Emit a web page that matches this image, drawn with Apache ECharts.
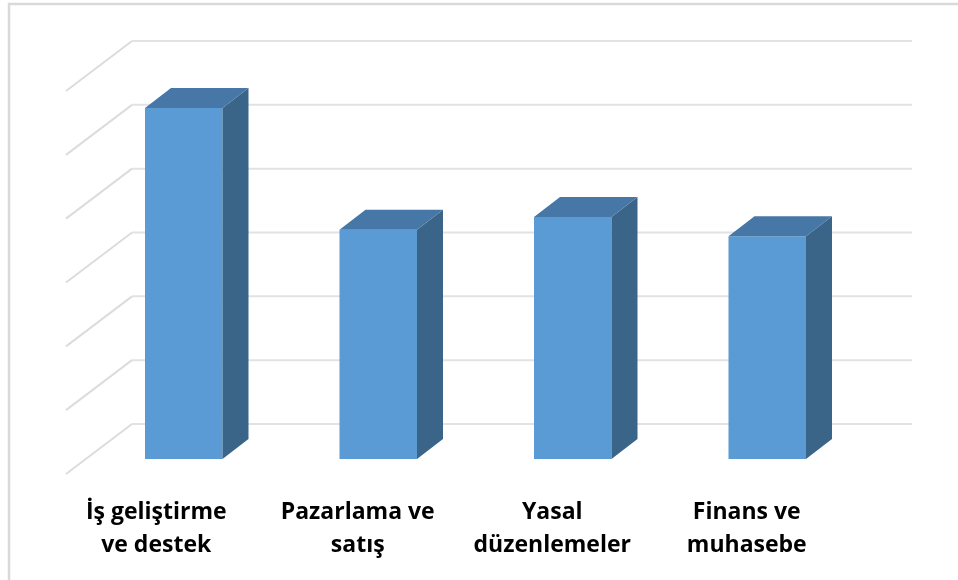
<!DOCTYPE html>
<html lang="tr">
<head>
  <meta charset="UTF-8">
  <title>Bar chart</title>
  <script src="https://cdn.jsdelivr.net/npm/echarts@6/dist/echarts.min.js"></script>
</head>
<body style="margin: 0; background: #fff">
<div id="container" style="width: 958px; height: 580px"></div>
<script type="text/javascript">
  var categories = ['İş geliştirme\nve destek', 'Pazarlama ve\nsatış', 'Yasal\ndüzenlemeler', 'Finans ve\nmuhasebe'];
  var barValues = [5.5, 3.59, 3.79, 3.49];
  var gridValues = [0, 1, 2, 3, 4, 5, 6];

  var myChart = echarts.init(document.getElementById('container'), null, { renderer: 'canvas' });

  // wall depth and bar placement inside the fake 3d box
  var wallDx = 66, wallDy = -50, wallExtra = 2;
  var barDx = 20.5, barDy = -15, barW = 77.5, sideDx = 26, sideDy = -20;

  function renderWall(params, api) {
    var sys = params.coordSys;
    var y = api.coord([0, api.value(0)])[1];
    return {
      type: 'group',
      children: [
        {
          type: 'line',
          shape: { x1: sys.x, y1: y, x2: sys.x + wallDx, y2: y + wallDy },
          style: { stroke: '#dcdcdc', lineWidth: 2 }
        },
        {
          type: 'line',
          shape: { x1: sys.x + wallDx, y1: y + wallDy, x2: sys.x + sys.width + wallDx + wallExtra, y2: y + wallDy },
          style: { stroke: '#e2e2e2', lineWidth: 2 }
        }
      ]
    };
  }

  function renderBar(params, api) {
    var center = api.coord([api.value(0), 0]);
    var top = api.coord([api.value(0), api.value(1)]);
    var x0 = center[0] + barDx - barW / 2;
    var x1 = x0 + barW;
    var y0 = center[1] + barDy;
    var y1 = top[1] + barDy;
    return {
      type: 'group',
      children: [
        { type: 'rect', shape: { x: x0, y: y1, width: barW, height: y0 - y1 }, style: { fill: '#5b9bd5' } },
        { type: 'polygon', shape: { points: [[x1, y1], [x1 + sideDx, y1 + sideDy], [x1 + sideDx, y0 + sideDy], [x1, y0]] }, style: { fill: '#3a6589' } },
        { type: 'polygon', shape: { points: [[x0, y1], [x0 + sideDx, y1 + sideDy], [x1 + sideDx, y1 + sideDy], [x1, y1]] }, style: { fill: '#4677a6' } }
      ]
    };
  }

  var option = {
    animation: false,
    grid: { left: 66, top: 91, width: 778, height: 383 },
    xAxis: {
      type: 'category',
      data: categories.map(function (c, i) {
        // first label sits a bit left of its band in the original
        return i === 0 ? { value: c, textStyle: { padding: [0, 14, 0, 0] } } : c;
      }),
      axisLine: { show: false },
      axisTick: { show: false },
      axisLabel: {
        interval: 0,
        hideOverlap: false,
        margin: 22,
        color: '#000',
        fontFamily: 'Open Sans',
        fontWeight: 'bold',
        fontSize: 23,
        lineHeight: 33
      }
    },
    yAxis: {
      type: 'value',
      min: 0,
      max: 6,
      interval: 1,
      axisLabel: { show: false },
      axisLine: { show: false },
      axisTick: { show: false },
      splitLine: { show: false }
    },
    graphic: [{
      type: 'polyline',
      shape: { points: [[9, 580], [9, 4], [958, 4]] },
      style: { stroke: '#d9d9d9', lineWidth: 2.5, fill: null }
    }],
    series: [
      {
        type: 'custom',
        renderItem: renderWall,
        data: gridValues.map(function (v) { return [v]; }),
        encode: { y: 0 },
        silent: true,
        clip: false
      },
      {
        type: 'custom',
        renderItem: renderBar,
        data: barValues.map(function (v, i) { return [i, v]; }),
        encode: { x: 0, y: 1 },
        clip: false
      }
    ]
  };
  myChart.setOption(option);
  window.addEventListener('resize', myChart.resize);
</script>
</body>
</html>
